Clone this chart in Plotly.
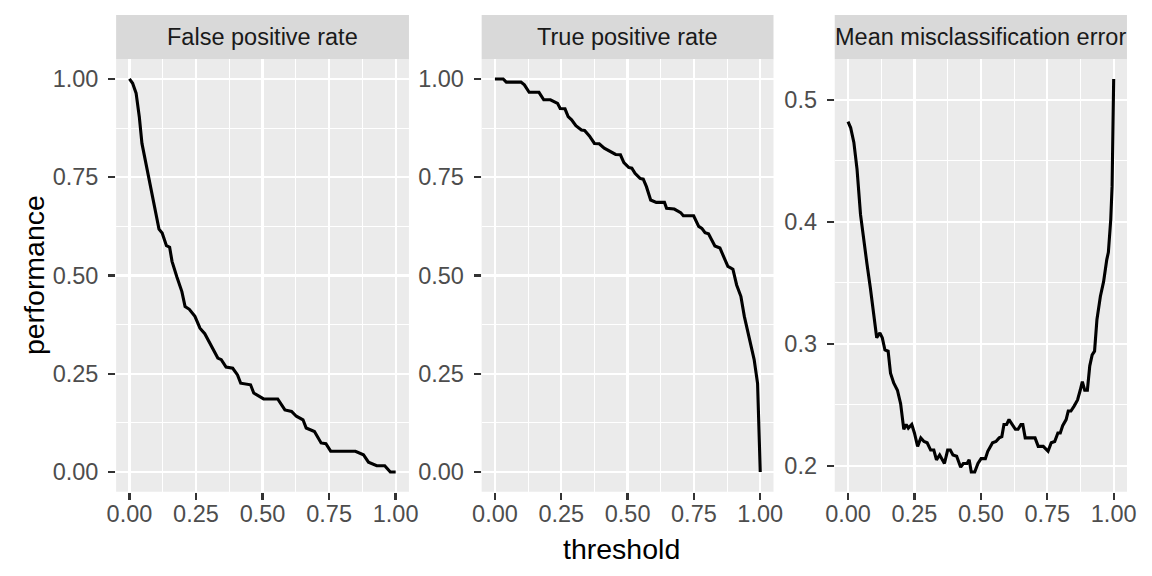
import plotly.graph_objects as go

# ---- data ----
panel_titles = ["False positive rate", "True positive rate", "Mean misclassification error"]

fpr_threshold = [0, 0.012, 0.025, 0.037, 0.047, 0.059, 0.068, 0.080, 0.098, 0.111, 0.123, 0.139,
                 0.151, 0.160, 0.178, 0.197, 0.209, 0.225, 0.246, 0.265, 0.283, 0.314, 0.332, 0.345,
                 0.363, 0.388, 0.406, 0.418, 0.455, 0.467, 0.486, 0.504, 0.557, 0.584, 0.609, 0.627,
                 0.652, 0.664, 0.695, 0.720, 0.738, 0.756, 0.849, 0.879, 0.898, 0.929, 0.959, 0.980, 1.0]
fpr_value = [1.0, 0.989, 0.964, 0.904, 0.836, 0.794, 0.760, 0.718, 0.658, 0.618, 0.608, 0.576,
             0.572, 0.536, 0.497, 0.459, 0.421, 0.414, 0.396, 0.366, 0.352, 0.311, 0.290, 0.286,
             0.267, 0.264, 0.247, 0.226, 0.222, 0.201, 0.194, 0.186, 0.186, 0.158, 0.154, 0.142,
             0.133, 0.112, 0.103, 0.074, 0.072, 0.053, 0.053, 0.044, 0.025, 0.016, 0.016, 0.0, 0.0]

tpr_threshold = [0, 0.031, 0.043, 0.098, 0.111, 0.129, 0.166, 0.184, 0.209, 0.236, 0.246, 0.264,
                 0.276, 0.289, 0.305, 0.326, 0.338, 0.356, 0.375, 0.393, 0.412, 0.430, 0.455, 0.473,
                 0.486, 0.504, 0.516, 0.528, 0.547, 0.559, 0.571, 0.587, 0.608, 0.639, 0.647, 0.676,
                 0.700, 0.710, 0.749, 0.768, 0.780, 0.792, 0.805, 0.829, 0.848, 0.878, 0.897, 0.911,
                 0.927, 0.940, 0.958, 0.977, 0.990, 1.0]
tpr_value = [1.0, 1.0, 0.992, 0.992, 0.985, 0.966, 0.966, 0.947, 0.947, 0.938, 0.925, 0.924,
             0.904, 0.896, 0.881, 0.870, 0.869, 0.855, 0.836, 0.835, 0.824, 0.818, 0.808, 0.807,
             0.787, 0.775, 0.773, 0.760, 0.747, 0.745, 0.726, 0.692, 0.686, 0.686, 0.671, 0.669,
             0.660, 0.652, 0.652, 0.625, 0.620, 0.609, 0.606, 0.575, 0.570, 0.523, 0.516, 0.476,
             0.447, 0.396, 0.341, 0.286, 0.225, 0.0]

mme_threshold = [0, 0.010, 0.022, 0.034, 0.047, 0.059, 0.071, 0.084, 0.096, 0.108, 0.120, 0.129,
                 0.139, 0.151, 0.160, 0.172, 0.186, 0.198, 0.210, 0.219, 0.227, 0.240, 0.250, 0.262,
                 0.274, 0.286, 0.298, 0.311, 0.323, 0.333, 0.345, 0.363, 0.375, 0.385, 0.395, 0.409,
                 0.424, 0.434, 0.448, 0.456, 0.464, 0.477, 0.489, 0.501, 0.517, 0.526, 0.544, 0.557,
                 0.569, 0.579, 0.587, 0.597, 0.606, 0.618, 0.630, 0.640, 0.651, 0.658, 0.667, 0.704,
                 0.716, 0.735, 0.753, 0.765, 0.778, 0.790, 0.799, 0.808, 0.821, 0.829, 0.839, 0.851,
                 0.864, 0.874, 0.882, 0.891, 0.901, 0.910, 0.919, 0.928, 0.937, 0.950, 0.962, 0.974,
                 0.980, 0.989, 0.994, 1.0]
mme_value = [0.482, 0.477, 0.465, 0.443, 0.406, 0.388, 0.366, 0.346, 0.327, 0.305, 0.309, 0.305,
             0.295, 0.294, 0.276, 0.268, 0.262, 0.251, 0.230, 0.234, 0.231, 0.234, 0.227, 0.216,
             0.223, 0.220, 0.219, 0.213, 0.213, 0.205, 0.209, 0.202, 0.213, 0.213, 0.209, 0.208,
             0.199, 0.202, 0.202, 0.205, 0.195, 0.195, 0.202, 0.206, 0.206, 0.212, 0.219, 0.220,
             0.223, 0.224, 0.234, 0.234, 0.238, 0.234, 0.230, 0.230, 0.234, 0.234, 0.223, 0.223,
             0.216, 0.216, 0.212, 0.219, 0.220, 0.227, 0.227, 0.233, 0.238, 0.245, 0.245, 0.249,
             0.254, 0.262, 0.269, 0.262, 0.262, 0.282, 0.291, 0.294, 0.320, 0.339, 0.351, 0.369,
             0.375, 0.402, 0.429, 0.517]

x_ticks = [0, 0.25, 0.5, 0.75, 1.0]
rate_ticks = [0, 0.25, 0.5, 0.75, 1.0]
mme_ticks = [0.2, 0.3, 0.4, 0.5]

series = [(fpr_threshold, fpr_value), (tpr_threshold, tpr_value), (mme_threshold, mme_value)]

# ---- layout geometry (pixels in the 1152x576 window) ----
W, H = 1152, 576
panel_px = [(108, 406), (480, 777), (839.3, 1136.7)]
panel_top, panel_bottom = 59.3, 491.7
strip_top = 15


def px_x(p):
    return p / W


def px_y(p):
    return 1 - p / H


FONT = "Liberation Sans, Arial, Helvetica, sans-serif"
PANEL_BG = "#EBEBEB"
STRIP_BG = "#D9D9D9"


def expand(lo, hi, m=0.05):
    r = hi - lo
    return [lo - m * r, hi + m * r]


fig = go.Figure()
ydom = [px_y(panel_bottom), px_y(panel_top)]
xr = expand(min(min(s[0]) for s in series), max(max(s[0]) for s in series))

for i, ((xs, ys), (l, r)) in enumerate(zip(series, panel_px)):
    n = "" if i == 0 else str(i + 1)
    fig.add_trace(go.Scatter(x=xs, y=ys, mode="lines",
                             line=dict(color="black", width=3.1),
                             xaxis="x" + n, yaxis="y" + n,
                             showlegend=False, hoverinfo="skip"))
    if i < 2:
        lo = min(min(fpr_value), min(tpr_value))
        hi = max(max(fpr_value), max(tpr_value))
        yr = expand(lo, hi)
        yt = rate_ticks
        yfmt = ".2f"
    else:
        yr = expand(min(mme_value), max(mme_value))
        yt = mme_ticks
        yfmt = ".1f"
    step = yt[1] - yt[0]
    y_minor = [v + step / 2 for v in [yt[0] - step] + yt]
    axis_common = dict(
        showline=False, zeroline=False, showgrid=True,
        gridcolor="white", gridwidth=2.2,
        ticks="outside", ticklen=7, tickwidth=2.3, tickcolor="#333333",
        tickfont=dict(family=FONT, size=23.5, color="#4D4D4D"),
        fixedrange=True,
    )
    fig.layout["xaxis" + n] = dict(
        axis_common, domain=[px_x(l), px_x(r)], range=xr, anchor="y" + n,
        tickmode="array", tickvals=x_ticks, tickformat=".2f",
        ticklabelstandoff=-6,
        minor=dict(tickmode="array", tickvals=[0.125, 0.375, 0.625, 0.875],
                   showgrid=True, gridcolor="white", gridwidth=1.1, ticks=""),
    )
    fig.layout["yaxis" + n] = dict(
        axis_common, domain=ydom, range=yr, anchor="x" + n,
        tickmode="array", tickvals=yt, tickformat=yfmt,
        ticklabelstandoff=5,
        minor=dict(tickmode="array", tickvals=y_minor,
                   showgrid=True, gridcolor="white", gridwidth=1.1, ticks=""),
    )
    # panel background
    fig.add_shape(type="rect", xref="paper", yref="paper",
                  x0=px_x(l), x1=px_x(r), y0=ydom[0], y1=ydom[1],
                  fillcolor=PANEL_BG, line=dict(width=0), layer="below")
    # strip
    fig.add_shape(type="rect", xref="paper", yref="paper",
                  x0=px_x(l), x1=px_x(r), y0=px_y(panel_top), y1=px_y(strip_top),
                  fillcolor=STRIP_BG, line=dict(width=0), layer="below")
    fig.add_annotation(x=px_x((l + r) / 2), y=px_y((panel_top + strip_top) / 2),
                       xref="paper", yref="paper", text=panel_titles[i], showarrow=False,
                       xanchor="center", yanchor="middle",
                       font=dict(family=FONT, size=23.5, color="#1A1A1A"))

# axis titles
fig.add_annotation(x=px_x((panel_px[0][0] + panel_px[2][1]) / 2), y=px_y(549),
                   xref="paper", yref="paper", text="threshold", showarrow=False,
                   xanchor="center", yanchor="middle",
                   font=dict(family=FONT, size=28.5, color="black"))
fig.add_annotation(x=px_x(24), y=px_y((panel_top + panel_bottom) / 2),
                   xref="paper", yref="paper", text="performance", showarrow=False,
                   textangle=-90, xanchor="center", yanchor="middle",
                   font=dict(family=FONT, size=28.5, color="black"))

fig.update_layout(width=W, height=H, margin=dict(l=0, r=0, t=0, b=0),
                  paper_bgcolor="white", plot_bgcolor="rgba(0,0,0,0)",
                  hovermode=False, showlegend=False)

fig.write_html("out.html", config={"displayModeBar": False, "staticPlot": True},
               post_script="document.body.style.margin='0px';"
                           "document.body.style.overflow='hidden';")
